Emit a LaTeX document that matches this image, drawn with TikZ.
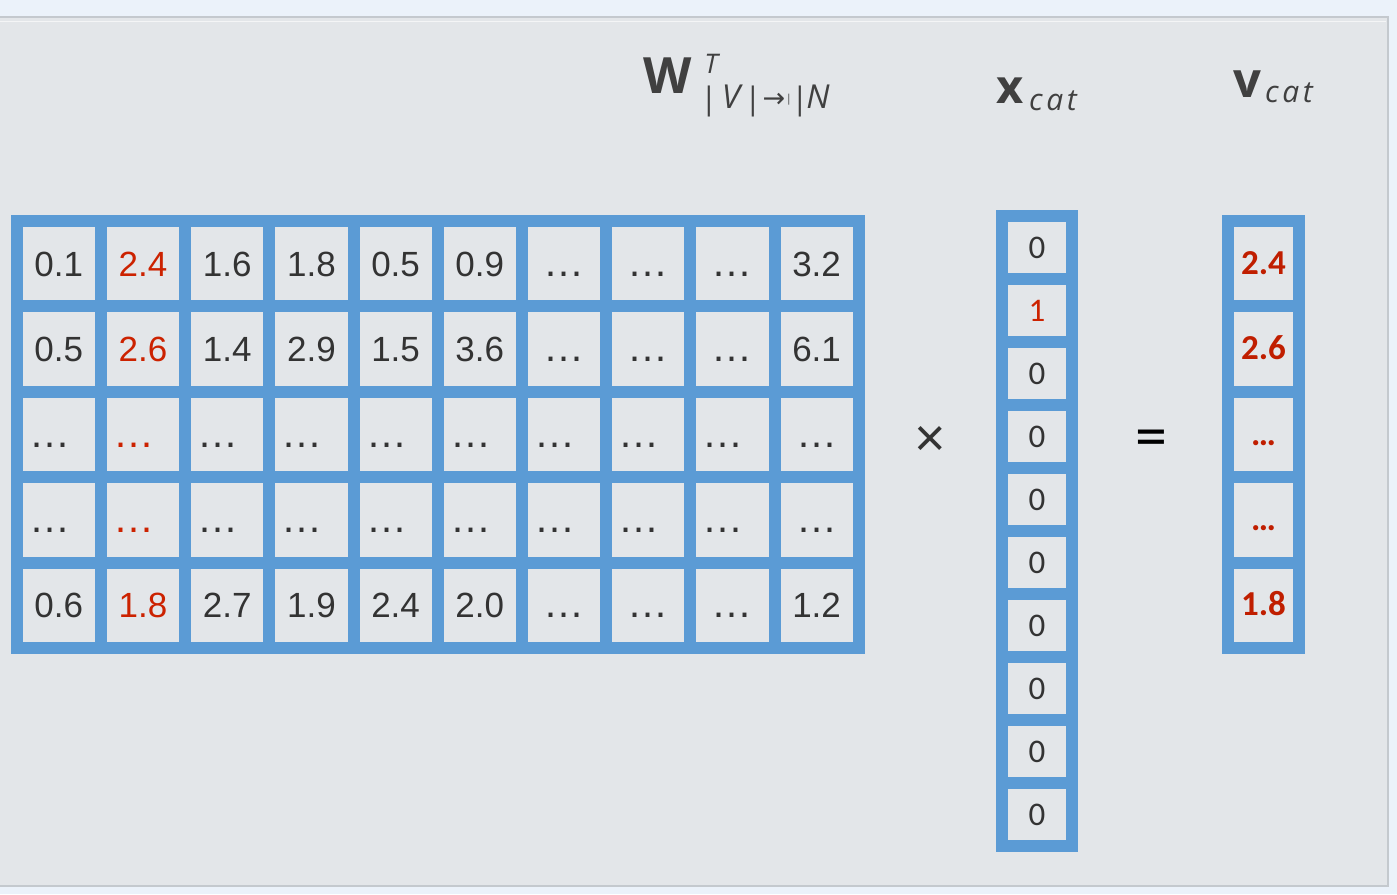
\documentclass[tikz,border=0pt]{standalone}
\usepackage{fontspec}
\setmainfont{Liberation Sans}
\newfontfamily\carl{Carlito}
\newfontfamily\osans{Open Sans}
\newfontfamily\osanssp[LetterSpace=12]{Open Sans}
\newfontfamily\djv{DejaVu Sans}
\newcommand\elp{{\fontsize{41}{44}\selectfont …}}
\definecolor{cbg}{HTML}{EBF2FA}
\definecolor{cpanel}{HTML}{E3E6E9}
\definecolor{cborder}{HTML}{C4C9CE}
\definecolor{cblue}{HTML}{5B9BD5}
\definecolor{cdark}{HTML}{333333}
\definecolor{cred}{HTML}{CC2200}
\definecolor{cvred}{HTML}{C01E00}
\definecolor{clabel}{HTML}{404040}
\tikzset{
  mcell/.style={draw=cblue, line width=12pt, minimum width=84.2pt, minimum height=85.4pt,
    inner sep=0pt},
  mtext/.style={inner sep=0pt, text height=25pt, text depth=0pt, font=\fontsize{35}{40}\selectfont},
  xcell/.style={draw=cblue, line width=12pt, minimum width=70pt, minimum height=63pt,
    inner sep=0pt, font=\carl\fontsize{33}{36}\selectfont},
  vcell/.style={draw=cblue, line width=12pt, minimum width=71pt, minimum height=85.4pt,
    inner sep=0pt, text height=21pt, text depth=0pt, text=cvred,
    font=\carl\bfseries\fontsize{35}{38}\selectfont},
  lbl/.style={inner sep=0pt, anchor=base west, text=clabel},
  sub/.style={inner sep=0pt, anchor=base, text=clabel, text depth=0pt}
}
\begin{document}
\begin{tikzpicture}[x=1pt,y=-1pt]
\useasboundingbox (0,0) rectangle (1397,894);
\fill[cbg] (0,0) rectangle (1397,894);
\draw[cborder, line width=1.5pt, fill=cpanel] (-5,17) rectangle (1388,886);
\draw[white!60!cpanel, line width=1pt] (0,21) -- (1386,21);
% matrix
\foreach \j/\vals in {
  0/{0.1,2.4,1.6,1.8,0.5,0.9,\elp,\elp,\elp,3.2},
  1/{0.5,2.6,1.4,2.9,1.5,3.6,\elp,\elp,\elp,6.1},
  2/{\elp,\elp,\elp,\elp,\elp,\elp,\elp,\elp,\elp,\elp},
  3/{\elp,\elp,\elp,\elp,\elp,\elp,\elp,\elp,\elp,\elp},
  4/{0.6,1.8,2.7,1.9,2.4,2.0,\elp,\elp,\elp,1.2}}{
  \foreach \v [count=\i from 0] in \vals {
    \ifnum\i=1 \def\tc{cred}\else\def\tc{cdark}\fi
    \def\xo{0}
    \ifnum\j=2 \ifnum\i<9 \def\xo{-9}\fi\fi
    \ifnum\j=3 \ifnum\i<9 \def\xo{-9}\fi\fi
    \node[mcell] (m-\j-\i) at ({58.8+84.2*\i},{263.7+85.4*\j}) {};
    \node[mtext, text=\tc] (t-\j-\i) at ([xshift=\xo pt]m-\j-\i.center) {\v};
  }
}
% x vector
\foreach \v [count=\k from 0] in {0,1,0,0,0,0,0,0,0,0} {
  \ifnum\k=1 \def\tc{cred}\else\def\tc{cdark}\fi
  \node[xcell, text=\tc] (x-\k) at (1037,{247.5+63*\k}) {\v};
}
% v vector
\foreach \v [count=\k from 0] in {2.4,2.6,…,…,1.8} {
  \node[vcell] (v-\k) at (1263.5,{263.7+85.4*\k}) {\v};
}
% operators
\node[inner sep=0pt, text=cdark, font=\fontsize{54}{60}\selectfont] (times) at (930,441) {×};
\node[inner sep=0pt, text=black, font=\carl\fontsize{64}{66}\selectfont] (equals) at (1151,443.5) {=};
% labels
\node[lbl, font=\osans\bfseries\fontsize{50}{54}\selectfont] (W) at (643,93) {W};
\node[sub, font=\osans\itshape\fontsize{27}{30}\selectfont] (WT) at (711,73) {T};
\node[sub, font=\osans\fontsize{31}{34}\selectfont] (b1) at (709,109) {|};
\node[sub, font=\osans\itshape\fontsize{33}{36}\selectfont] (WV) at (731,108) {V};
\node[sub, font=\osans\fontsize{31}{34}\selectfont] (b2) at (753,109) {|};
\node[sub, font=\djv\fontsize{27}{28}\selectfont] (arr) at (774,107) {→};
\node[sub, font=\osans\fontsize{11}{12}\selectfont] (b3) at (789,102) {|};
\node[sub, font=\osans\fontsize{31}{34}\selectfont] (b4) at (800,109) {|};
\node[sub, font=\osans\itshape\fontsize{33}{36}\selectfont] (WN) at (818,108) {N};
\node[lbl, font=\osans\bfseries\fontsize{47}{50}\selectfont] (xl) at (996,103) {x};
\node[lbl, font=\osanssp\itshape\fontsize{30}{34}\selectfont] (xs) at (1029,110) {cat};
\node[lbl, font=\osans\bfseries\fontsize{49}{52}\selectfont] (vl) at (1233,97) {v};
\node[lbl, font=\osanssp\itshape\fontsize{30}{34}\selectfont] (vs) at (1265,102) {cat};
\end{tikzpicture}
\end{document}
